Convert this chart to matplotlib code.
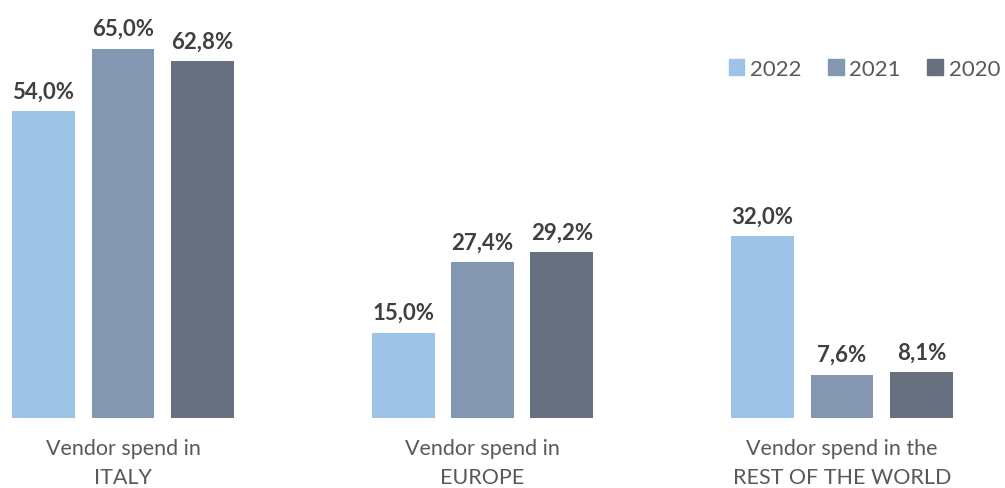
import matplotlib.pyplot as plt
import numpy as np
from matplotlib.patches import Patch

plt.rcParams['font.family'] = ['Lato', 'DejaVu Sans']

# data
categories = ["Vendor spend in\nITALY", "Vendor spend in\nEUROPE", "Vendor spend in the\nREST OF THE WORLD"]
years = ["2022", "2021", "2020"]
v2022 = [54.0, 15.0, 32.0]
v2021 = [65.0, 27.4, 7.6]
v2020 = [62.8, 29.2, 8.1]

colors = ["#9DC3E6", "#8497B0", "#67707F"]
series = [v2022, v2021, v2020]

fig = plt.figure(figsize=(10.05, 4.89), dpi=100)
ax = fig.add_axes([0, 70 / 489, 1, 1 - 70 / 489])

x = np.arange(len(categories))
width = 0.175
step = 0.221

for i, (vals, col) in enumerate(zip(series, colors)):
    pos = x + (i - 1) * step
    bars = ax.bar(pos, vals, width, color=col, label=years[i])
    for b, v in zip(bars, vals):
        ax.annotate(f"{v:.1f}%".replace(".", ","), (b.get_x() + b.get_width() / 2, v),
                    xytext=(0, 7), textcoords="offset points", ha="center", va="bottom",
                    fontsize=16, fontweight="bold", color="#404040")

ax.set_xlim(-123 / 359.5, (1005 - 123) / 359.5)
ax.set_ylim(0, 419 / 5.68)
ax.axis("off")

# category labels under each group
for xi, cat in zip(x, categories):
    ax.text(xi, -3.6, cat, ha="center", va="top", fontsize=15.5, color="#595959",
            linespacing=1.55)

handles = [Patch(color=c, label=y) for c, y in zip(colors, years)]
fig.legend(handles=handles, loc="center right", bbox_to_anchor=(1000 / 1005, 1 - 70 / 489),
           ncol=3, frameon=False, fontsize=16, labelcolor="#595959", handlelength=0.7,
           handleheight=0.7, handletextpad=0.25, columnspacing=1.2, borderpad=0,
           borderaxespad=0)

plt.savefig("out.png", dpi=100)
